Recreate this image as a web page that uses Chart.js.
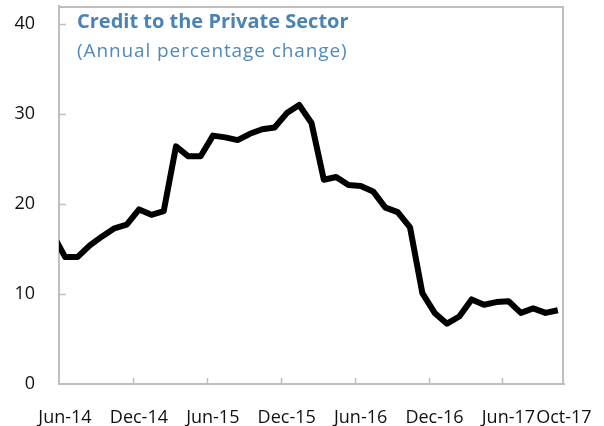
<!DOCTYPE html>
<html>
<head>
<meta charset="utf-8">
<script src="https://cdn.jsdelivr.net/npm/chart.js@4/dist/chart.umd.min.js"></script>
<style>
  html, body { margin: 0; padding: 0; background: #ffffff; }
  #wrap { position: relative; width: 604px; height: 426px; overflow: hidden; }
  #c { position: absolute; left: 0; top: 0; }
  .t { position: absolute; left: 77px; font-family: "Open Sans", sans-serif; color: #4A83B6; white-space: nowrap; line-height: 1.2; }
  #t1 { top: 9px; font-size: 20px; font-weight: bold; }
  #t2 { top: 39px; font-size: 19px; font-weight: normal; letter-spacing: 0.9px; color: #5089BC; }
</style>
</head>
<body>
<div id="wrap">
  <canvas id="c" width="604" height="426"></canvas>
  <div class="t" id="t1">Credit to the Private Sector</div>
  <div class="t" id="t2">(Annual percentage change)</div>
</div>
<script>
// ---- data (monthly, annual % change) ----
const months = [
  'May-14','Jun-14','Jul-14','Aug-14','Sep-14','Oct-14','Nov-14','Dec-14',
  'Jan-15','Feb-15','Mar-15','Apr-15','May-15','Jun-15','Jul-15','Aug-15','Sep-15','Oct-15','Nov-15','Dec-15',
  'Jan-16','Feb-16','Mar-16','Apr-16','May-16','Jun-16','Jul-16','Aug-16','Sep-16','Oct-16','Nov-16','Dec-16',
  'Jan-17','Feb-17','Mar-17','Apr-17','May-17','Jun-17','Jul-17','Aug-17','Sep-17','Oct-17'
];
const credit = [
  16.6, 14.1, 14.1, 15.4, 16.4, 17.3, 17.7, 19.4,
  18.8, 19.2, 26.4, 25.3, 25.3, 27.6, 27.4, 27.1, 27.8, 28.3, 28.5, 30.1,
  31.0, 29.0, 22.7, 23.0, 22.1, 22.0, 21.4, 19.6, 19.1, 17.4, 10.1, 7.9,
  6.7, 7.5, 9.4, 8.8, 9.1, 9.2, 7.9, 8.4, 7.9, 8.2
];
const tickMonths = ['Jun-14','Dec-14','Jun-15','Dec-15','Jun-16','Dec-16','Jun-17','Oct-17'];
const yTicks = [0, 10, 20, 30, 40];

// ---- helpers ----
const firstMonth = 'Jun-14';
const lastMonth = 'Oct-17';
const idx = m => months.indexOf(m) - months.indexOf(firstMonth);   // Jun-14 -> 0
const points = months.map((m, i) => ({ x: idx(m), y: credit[i] }));
// tick marks sit on category boundaries (Excel style), last label at its own category
const xTickVals = tickMonths.map(m => m === lastMonth ? idx(m) : idx(m) - 0.5);
const labelFor = v => {
  const k = xTickVals.indexOf(v);
  return k >= 0 ? tickMonths[k] : '';
};

const axisColor = '#BFBFBF';
const textFont = { family: '"Open Sans", sans-serif', size: 18 };

const frame = {
  id: 'frame',
  beforeDatasetsDraw(chart) {
    const { ctx, chartArea: a, scales: { x, y } } = chart;
    ctx.save();
    ctx.strokeStyle = axisColor;
    ctx.lineWidth = 2;
    ctx.beginPath();
    ctx.moveTo(a.left, a.top + 1);
    ctx.lineTo(a.right - 1, a.top + 1);
    ctx.lineTo(a.right - 1, a.bottom);
    ctx.stroke();
    ctx.lineWidth = 1.5;
    ctx.beginPath();
    x.ticks.forEach(t => {
      if (t.value % 1 !== 0 && t.value > x.min) {
        const px = Math.round(x.getPixelForValue(t.value)) + 0.5;
        ctx.moveTo(px, a.bottom);
        ctx.lineTo(px, a.bottom - 6);
      }
    });
    y.ticks.forEach(t => {
      if (t.value > 0) {
        const py = Math.round(y.getPixelForValue(t.value)) + 0.5;
        ctx.moveTo(a.left, py);
        ctx.lineTo(a.left + 7, py);
      }
    });
    ctx.stroke();
    ctx.restore();
  }
};

new Chart(document.getElementById('c'), {
  type: 'line',
  data: {
    datasets: [{
      data: points,
      borderColor: '#000000',
      borderWidth: 6,
      pointRadius: 0,
      tension: 0,
      fill: false,
      clip: 0,
      borderJoinStyle: 'round',
      borderCapStyle: 'butt'
    }]
  },
  options: {
    responsive: false,
    animation: false,
    layout: { padding: { left: 0, right: 40, top: 6, bottom: 0 } },
    plugins: { legend: { display: false }, tooltip: { enabled: false }, title: { display: false } },
    scales: {
      x: {
        type: 'linear',
        min: -0.5,
        max: idx(lastMonth) + 0.5,
        afterBuildTicks: s => { s.ticks = xTickVals.map(v => ({ value: v })); },
        afterFit: s => { s.height = 42; s.paddingLeft = 0; s.paddingRight = 0; },
        grid: { display: false, drawTicks: false },
        border: { display: true, color: axisColor, width: 2 },
        ticks: {
          autoSkip: false,
          maxRotation: 0,
          padding: 23,
          labelOffset: 6,
          color: '#111111',
          font: textFont,
          callback: v => labelFor(v)
        }
      },
      y: {
        min: 0,
        max: 42,
        afterBuildTicks: s => { s.ticks = yTicks.map(v => ({ value: v })); },
        afterFit: s => { s.width = 59; s.paddingTop = 0; s.paddingBottom = 0; },
        grid: { display: false, drawTicks: false },
        border: { display: true, color: axisColor, width: 2 },
        ticks: {
          padding: 24,
          color: '#111111',
          font: textFont,
          callback: v => String(v)
        }
      }
    }
  },
  plugins: [frame]
});
</script>
</body>
</html>
